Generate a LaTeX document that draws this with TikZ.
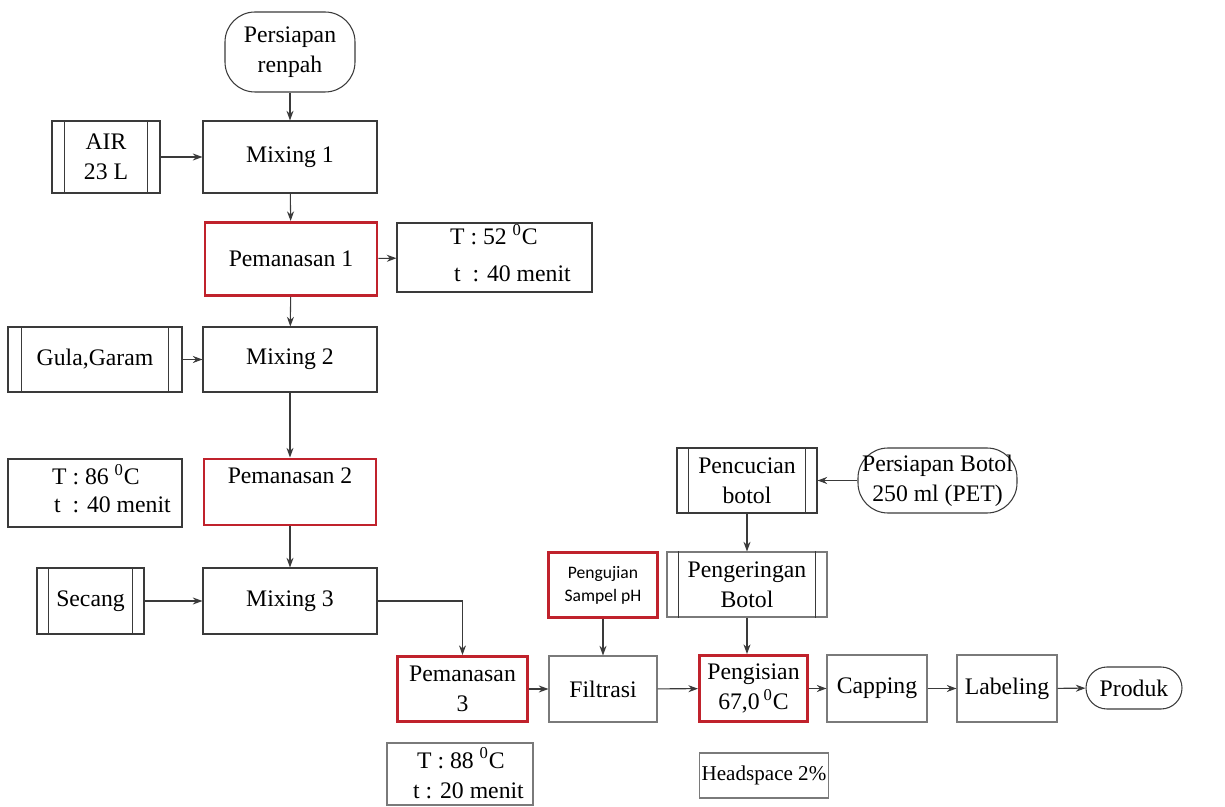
\documentclass[tikz,border=0pt]{standalone}
\usepackage{fontspec}
\setmainfont{Liberation Serif}
\newfontfamily\serifmain{Liberation Serif}
\newfontfamily\smallsans{Carlito}
\usetikzlibrary{arrows.meta}
\definecolor{ln}{HTML}{3A3A3A}
\definecolor{lg}{HTML}{7A7A7A}
\definecolor{rd}{HTML}{C0222C}
\begin{document}
\begin{tikzpicture}[x=0.02cm,y=-0.02cm,
  every node/.style={font=\serifmain\fontsize{13.5}{17}\selectfont, align=center, inner sep=1pt},
  box/.style={draw=ln, line width=0.6pt, minimum width=#1},
  gbox/.style={draw=lg, line width=0.6pt, minimum width=#1},
  redbox/.style={draw=rd, line width=1.7pt, minimum width=#1},
  term/.style={draw=ln, line width=0.6pt, rounded corners=#1},
  arr/.style={draw=ln, line width=0.6pt, -{Stealth[length=5.5pt,width=4pt]}},
  plain/.style={draw=ln, line width=0.6pt}
]
\useasboundingbox (0,0) rectangle (1225,807);

% nodes
\node[term=0.6cm, minimum width=130*0.02cm, minimum height=80*0.02cm] (rempah) at (290,52) {Persiapan\\renpah};
\node[box=174*0.02cm, minimum height=72*0.02cm] (mix1) at (290,157) {Mixing 1};
\node[box=108*0.02cm, minimum height=72*0.02cm] (air) at (106,157) {AIR\\23 L};
\node[redbox=172*0.02cm, minimum height=73*0.02cm] (pem1) at (291,259) {Pemanasan 1};
\node[box=195*0.02cm, minimum height=69*0.02cm] (t52) at (494.5,257.5) {};
\node[anchor=base west] (t52a) at (448,245) {T : 52 \textsuperscript{0}C};
\node[anchor=base west] (t52b) at (452,282) {t\enspace: 40 menit};
\node[box=174*0.02cm, minimum height=65*0.02cm] (mix2) at (290,359.5) {Mixing 2};
\node[box=174*0.02cm, minimum height=65*0.02cm] (gula) at (95,359.5) {Gula,Garam};
\node[redbox=172*0.02cm, minimum height=66*0.02cm] (pem2) at (290,492) {};
\node[anchor=base] (pem2t) at (290,484) {Pemanasan 2};
\node[box=174*0.02cm, minimum height=68*0.02cm] (t86) at (95,493) {};
\node[anchor=base west] (t86a) at (50,485) {T : 86 \textsuperscript{0}C};
\node[anchor=base west] (t86b) at (52,513) {t\enspace: 40 menit};
\node[box=174*0.02cm, minimum height=66*0.02cm] (mix3) at (290,601) {Mixing 3};
\node[box=107*0.02cm, minimum height=66*0.02cm] (secang) at (90.5,601) {Secang};
\node[redbox=130*0.02cm, minimum height=65*0.02cm] (pem3) at (462.5,689) {Pemanasan\\3};
\node[gbox=108*0.02cm, minimum height=66*0.02cm] (filt) at (603,689) {Filtrasi};
\node[redbox=109*0.02cm, minimum height=65*0.02cm, font=\smallsans\fontsize{10}{13}\selectfont] (uji) at (603,585) {Pengujian\\Sampel pH};
\node[redbox=108*0.02cm, minimum height=66*0.02cm] (isi) at (753.5,688.5) {Pengisian\\67,0\,\textsuperscript{0}C};
\node[gbox=160*0.02cm, minimum height=65*0.02cm] (kering) at (747,584.5) {Pengeringan\\Botol};
\node[box=140*0.02cm, minimum height=65*0.02cm] (cuci) at (747,480.5) {Pencucian\\botol};
\node[term=0.6cm, minimum width=159*0.02cm, minimum height=65*0.02cm, inner sep=0pt] (botol) at (937.5,480.5) {Persiapan Botol\\250 ml (PET)};
\node[gbox=100*0.02cm, minimum height=67*0.02cm] (cap) at (877,688.5) {Capping};
\node[gbox=100*0.02cm, minimum height=67*0.02cm] (lab) at (1007,688.5) {Labeling};
\node[term=0.42cm, minimum width=96*0.02cm, minimum height=42*0.02cm] (produk) at (1134,688) {Produk};
\node[gbox=146*0.02cm, minimum height=62*0.02cm] (t88) at (460,774) {};
\node[anchor=base west] (t88a) at (415,768) {T : 88 \textsuperscript{0}C};
\node[anchor=base west] (t88b) at (411,798) {t : 20 menit};
\node[gbox=126*0.02cm, minimum height=45*0.02cm, font=\serifmain\fontsize{12}{14}\selectfont] (head) at (764,775.5) {Headspace 2\%};

% inner bars of predefined-process boxes
\foreach \n/\d in {air/13, gula/14, secang/12, cuci/12, kering/12}{
  \draw[plain] ([xshift=\d*0.02cm]\n.north west) -- ([xshift=\d*0.02cm]\n.south west);
  \draw[plain] ([xshift=-\d*0.02cm]\n.north east) -- ([xshift=-\d*0.02cm]\n.south east);
}

% connectors
\draw[arr] (rempah) -- (mix1);
\draw[arr] (air) -- (mix1);
\draw[arr] (mix1) -- (pem1);
\draw[arr] (pem1) -- (t52);
\draw[arr] (pem1) -- (mix2);
\draw[arr] (gula) -- (mix2);
\draw[arr] (mix2) -- (pem2);
\draw[arr] (pem2) -- (mix3);
\draw[arr] (secang) -- (mix3);
\draw[arr] (mix3.east) -| (pem3.north);
\draw[arr] (pem3) -- (filt);
\draw[arr] (uji) -- (filt);
\draw[arr] (filt) -- (isi);
\draw[arr] (botol) -- (cuci);
\draw[arr] (cuci) -- (kering);
\draw[arr] (kering.south) -- (kering.south |- isi.north);
\draw[arr] (isi) -- (cap);
\draw[arr] (cap) -- (lab);
\draw[arr] (lab) -- (produk);
\end{tikzpicture}
\end{document}
